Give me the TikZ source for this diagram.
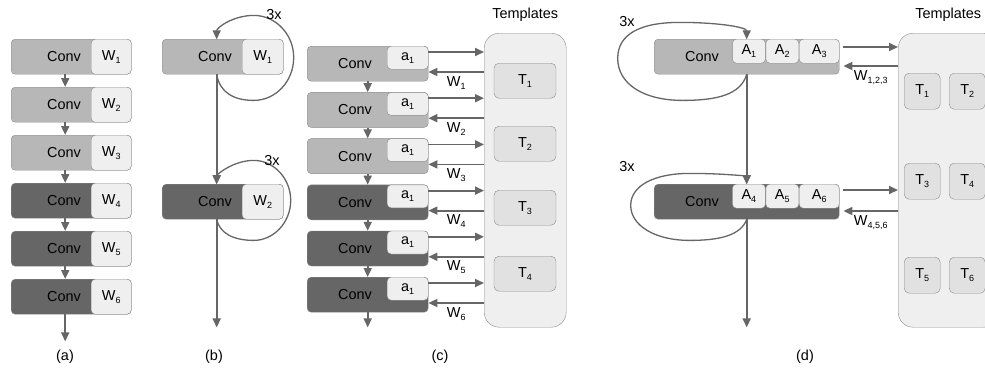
\documentclass[tikz,border=0pt]{standalone}
\usepackage{fontspec}
\setmainfont{Liberation Sans}
\usetikzlibrary{arrows.meta,positioning,calc}

\definecolor{convlite}{HTML}{B7B7B7}
\definecolor{convdark}{HTML}{666666}
\definecolor{cellfill}{HTML}{EFEFEF}
\definecolor{edge}{HTML}{8A8A8A}
\definecolor{tplfill}{HTML}{EFEFEF}
\definecolor{tfill}{HTML}{E1E1E1}
\definecolor{ink}{HTML}{666666}

% low subscript used for W_i, a_i, T_i
\newcommand{\lo}[1]{\raisebox{-3bp}{\fontsize{9}{9}\selectfont #1}}

\begin{document}
\begin{tikzpicture}[
  x=1bp, y=-1bp,
  font=\fontsize{14.5}{17}\selectfont,
  conv/.style={draw=edge,rounded corners=4bp,minimum height=35bp,inner sep=0pt,anchor=north west},
  cell/.style={draw=edge,fill=cellfill,rounded corners=4bp,inner sep=0pt,anchor=north east},
  tpl/.style={draw=edge,fill=tplfill,rounded corners=15bp,inner sep=0pt,anchor=north west},
  tbox/.style={draw=edge,fill=tfill,rounded corners=5bp,inner sep=0pt},
  word/.style={inner sep=0pt},
  arr/.style={draw=ink,line width=1.8bp,-{Triangle[length=9bp,width=8bp]}},
  rep/.style={draw=ink,line width=1.3bp,-{Triangle[length=9bp,width=8bp]}}
]
\useasboundingbox (0,0) rectangle (985,371);
\clip (0,0) rectangle (985,371);

% (a) six layers, own weights
\foreach \i/\c in {1/convlite,2/convlite,3/convlite,4/convdark,5/convdark,6/convdark}{
  \node[conv,fill=\c,minimum width=120bp] (a\i) at (11,{39+48*(\i-1)}) {};
  \node[cell,minimum width=40bp,minimum height=35bp] (wa\i) at (a\i.north east) {W\lo{\i}};
  \node[word,right=36bp of a\i.west] (ta\i) {Conv};
}
\foreach \i [count=\j from 2] in {1,...,5}
  \draw[arr] ([xshift=-6bp]a\i.south) -- ([xshift=-6bp]a\j.north);
\coordinate (aend) at ([xshift=-6bp,yshift=-27bp]a6.south);
\draw[arr] ([xshift=-6bp]a6.south) -- (aend);
\node (capa) at (65,357) {(a)};

% (b) two layers, each applied 3x
\node[conv,fill=convlite,minimum width=121bp] (b1) at (162,39) {};
\node[cell,minimum width=41bp,minimum height=35bp] (wb1) at (b1.north east) {W\lo{1}};
\node[word,right=36bp of b1.west] (tb1) {Conv};
\node[conv,fill=convdark,minimum width=121bp] (b2) at (162,184) {};
\node[cell,minimum width=41bp,minimum height=35bp] (wb2) at (b2.north east) {W\lo{2}};
\node[word,right=36bp of b2.west] (tb2) {Conv};
\draw[arr] ([xshift=-6bp]b1.south) -- ([xshift=-6bp]b2.north);
\coordinate (bend) at ([xshift=-6bp,yshift=-108bp]b2.south);
\draw[arr] ([xshift=-6bp]b2.south) -- (bend);
\draw[rep] ([xshift=-6bp]b1.south) .. controls +(3,18) and +(-20,0) .. ++(37,26)
  .. controls +(22,0) and +(0,24) .. ++(40,-43)
  .. controls +(0,-23) and +(22,0) .. ++(-40,-42)
  .. controls +(-20,0) and +(0,-12) .. ++(-37,24);
\draw[rep] ([xshift=-6bp]b2.south) .. controls +(3,14) and +(-20,0) .. ++(37,21)
  .. controls +(20,0) and +(0,22) .. ++(37,-40)
  .. controls +(0,-22) and +(20,0) .. ++(-37,-40)
  .. controls +(-20,0) and +(0,-10) .. ++(-37,24);
\node (rb1) at (274,15) {3x};
\node (rb2) at (272,161) {3x};
\node (capb) at (214,357) {(b)};

% (c) six layers, weights drawn from templates
\node[tpl,minimum width=82bp,minimum height=294bp] (tc) at (484,33) {};
\node[above=8bp of tc] (tcl) {Templates};
\foreach \i/\y in {1/63,2/126,3/190,4/256}
  \node[tbox,minimum width=62bp,minimum height=35bp,anchor=north] (tc\i) at (525,\y) {T\lo{\i}};
\foreach \i/\c in {1/convlite,2/convlite,3/convlite,4/convdark,5/convdark,6/convdark}{
  \node[conv,fill=\c,minimum width=121bp] (c\i) at (307,{46+46.2*(\i-1)}) {};
  \node[cell,minimum width=41bp,minimum height=23bp] (ac\i) at (c\i.north east) {a\lo{1}};
  \node[word,right=31bp of c\i.west] (tcv\i) {Conv};
  \coordinate (co\i) at ([yshift=-6bp]c\i.north east);
  \coordinate (ci\i) at ([yshift=-26bp]c\i.north east);
  \draw[arr] (co\i) -- (co\i -| tc.west);
  \draw[arr] (ci\i -| tc.west) -- node[below]{W\lo{\i}} (ci\i);
}
\foreach \i [count=\j from 2] in {1,...,5}
  \draw[arr] (c\i.south) -- (c\j.north);
\coordinate (cend) at ([yshift=-15bp]c6.south);
\draw[arr] (c6.south) -- (cend);
\node (capc) at (440,357) {(c)};

% (d) two shared layers with per-step coefficients
\node[tpl,minimum width=100bp,minimum height=294bp] (td) at (898,33) {};
\node[above=8bp of td] (tdl) {Templates};
\foreach \i/\x/\y in {1/904/73,2/949/73,3/904/163,4/949/163,5/904/257,6/949/257}
  \node[tbox,minimum width=36bp,minimum height=36bp,anchor=north west] (td\i) at (\x,\y) {T\lo{\i}};

\node[conv,fill=convlite,minimum width=185bp] (d1) at (654,39) {};
\node[cell,minimum width=40bp,minimum height=24bp] (d1c3) at (d1.north east) {A\lo{3}};
\node[cell,minimum width=33bp,minimum height=24bp,left=0pt of d1c3] (d1c2) {A\lo{2}};
\node[cell,minimum width=33bp,minimum height=24bp,left=0pt of d1c2] (d1c1) {A\lo{1}};
\node[word,right=31bp of d1.west] (td1t) {Conv};

\node[conv,fill=convdark,minimum width=185bp] (d2) at (654,184) {};
\node[cell,minimum width=40bp,minimum height=24bp] (d2c3) at (d2.north east) {A\lo{6}};
\node[cell,minimum width=33bp,minimum height=24bp,left=0pt of d2c3] (d2c2) {A\lo{5}};
\node[cell,minimum width=33bp,minimum height=24bp,left=0pt of d2c2] (d2c1) {A\lo{4}};
\node[word,right=31bp of d2.west] (td2t) {Conv};

\draw[arr] (d1.south) -- (d2.north);
\coordinate (dend) at ([yshift=-108bp]d2.south);
\draw[arr] (d2.south) -- (dend);

\coordinate (do1) at ([xshift=4bp,yshift=-8bp]d1.north east);
\coordinate (di1) at ([xshift=4bp,yshift=-27bp]d1.north east);
\draw[arr] (do1) -- (do1 -| td.west);
\draw[arr] (di1 -| td.west) -- node[below]{W\lo{1,2,3}} (di1);
\coordinate (do2) at ([xshift=4bp,yshift=-6bp]d2.north east);
\coordinate (di2) at ([xshift=4bp,yshift=-27bp]d2.north east);
\draw[arr] (do2) -- (do2 -| td.west);
\draw[arr] (di2 -| td.west) -- node[below]{W\lo{4,5,6}} (di2);

\draw[rep] (d1.south) .. controls +(-6,20) and +(35,0) .. ++(-64,26)
  .. controls +(-40,0) and +(0,25) .. ++(-65,-42)
  .. controls +(0,-24) and +(-40,0) .. ++(62,-36)
  .. controls +(40,0) and +(0,-12) .. ++(67,17);
\draw[rep] (d2.south) .. controls +(-6,16) and +(30,0) .. ++(-57,21)
  .. controls +(-35,0) and +(0,20) .. ++(-59,-35)
  .. controls +(0,-20) and +(-35,0) .. ++(59,-32)
  .. controls +(35,0) and +(0,-8) .. ++(57,11);
\node (rd1) at (627,22) {3x};
\node (rd2) at (627,167) {3x};
\node (capd) at (805,357) {(d)};
\end{tikzpicture}
\end{document}
